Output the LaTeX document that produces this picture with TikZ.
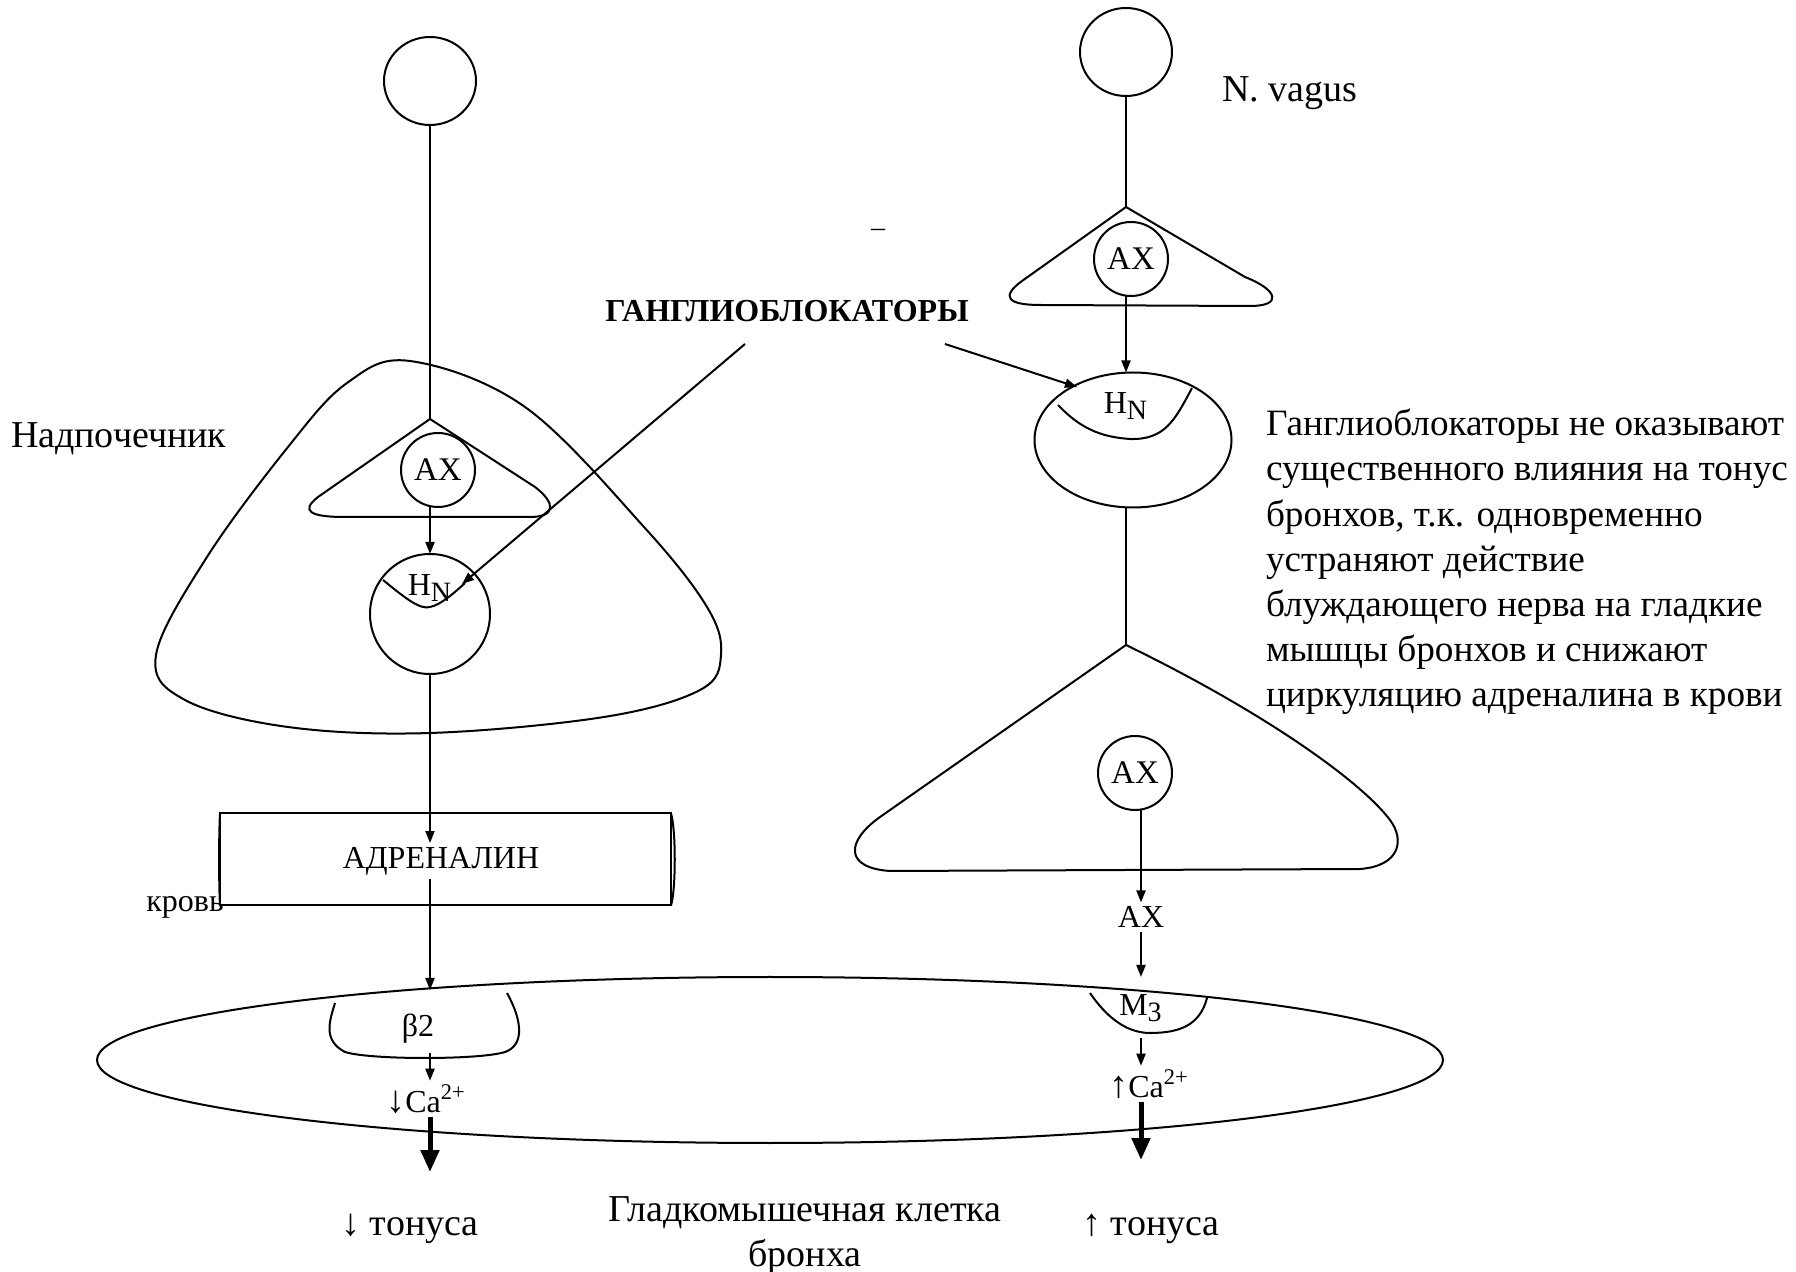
\documentclass[tikz,border=0pt]{standalone}
\usepackage{fontspec}
\setmainfont{Liberation Serif}
\usetikzlibrary{arrows.meta,shapes.geometric}
\begin{document}
\begin{tikzpicture}[x=0.5pt,y=-0.5pt, line width=1pt,
  every node/.style={inner sep=0pt, outer sep=0pt},
  lbl/.style={font=\fontsize{19}{22.6}\selectfont},
  par/.style={font=\fontsize{18.6}{22.6}\selectfont},
  sml/.style={font=\fontsize{16}{19}\selectfont, inner sep=2pt},
  cellc/.style={draw, circle, minimum size=37pt, font=\fontsize{16.5}{19}\selectfont},
  soma/.style={draw, ellipse, minimum width=46pt, minimum height=44pt},
  arr/.style={-{Triangle[length=6pt,width=4.5pt]}},
  bigarr/.style={line width=2.5pt, -{Triangle[length=11pt,width=9pt]}}
]
\useasboundingbox (0,0) rectangle (1796,1272);

% ---------- left branch (adrenal) ----------
\node[soma] (somaL) at (430,81) {};
\coordinate (apL) at (430,419);
\draw (somaL) -- (apL);

% adrenal gland outline
\draw plot[smooth cycle, tension=0.6] coordinates {
  (410,361) (525,407) (644,527) (707,607) (721,655) (700,690) (604,717)
  (430,733) (288,727) (185,700) (156,655) (207,557) (288,447) (347,383)};
\node[lbl, anchor=west] (nadp) at (11,439) {Надпочечник};

% ganglion (left)
\draw (apL) -- (318,497) .. controls (300,511) and (310,517) .. (345,517)
  -- (530,517) .. controls (556,517) and (556,503) .. (535,487) -- cycle;
\node[cellc] (axL) at (438,470) {AX};
\node[draw, circle, minimum size=60pt] (hnL) at (430,614) {};
\node[sml] (hnLt) at (430,588) {H\textsubscript{\fontsize{14}{14}\selectfont N}};
\draw[arr] (axL.south -| hnL.north) -- (hnL.north);
\draw (383,580) .. controls (405,598) and (420,610) .. (430,607)
  .. controls (440,605) and (452,595) .. (465,583);
\coordinate (hnLrec) at (462,584);

% blood vessel
\node[draw, rectangle, minimum width=225.5pt, minimum height=46pt] (vessel) at (445.5,859.5) {};
\draw (vessel.north east) .. controls +(2.5pt,-8pt) and +(2.5pt,8pt) .. (vessel.south east);
\draw (vessel.north west) .. controls +(-0.6pt,-10pt) and +(-0.6pt,10pt) .. (vessel.south west);
\node[sml] (adr) at (441,861) {АДРЕНАЛИН};
\node[sml, inner sep=0pt] (krov) at (185,907) {кровь};
\draw[arr] (hnL.south) -- (adr.north -| hnL.south);

% smooth muscle cell
\node[draw, ellipse, minimum width=673pt, minimum height=83pt] (cell) at (770,1060) {};
\coordinate (b2in) at (430,990);
\draw[arr] (adr.south -| hnL.south) -- (b2in);
\draw (335,1003) .. controls (330,1020) and (322,1040) .. (345,1052)
  .. controls (370,1060) and (480,1060) .. (505,1052)
  .. controls (525,1045) and (522,1020) .. (507,993);
\node[sml] (b2) at (418,1029) {β2};
\node[sml] (caL) at (426,1099) {{\fontsize{19}{19}\selectfont ↓}Ca\textsuperscript{2+}};
\draw[arr] (430,1053) -- (caL.north -| b2in);
\coordinate (toneLtop) at (430,1172);
\draw[bigarr] (caL.south -| b2in) -- (toneLtop);
\node[lbl] (toneL) at (410,1229) {↓ тонуса};

% ---------- ganglion blockers ----------
\node[font=\bfseries\fontsize{16}{19}\selectfont] (gb) at (787,311) {ГАНГЛИОБЛОКАТОРЫ};
\node[font=\fontsize{14}{16}\selectfont] (minus) at (878,233) {–};
\coordinate (gbL) at (745,344);
\coordinate (gbR) at (945,344);
\draw[arr] (gbL) -- (hnLrec);

% ---------- right branch (vagus) ----------
\node[soma] (somaR) at (1126,52) {};
\node[lbl, anchor=west] (vagus) at (1222,93) {N. vagus};
\coordinate (apR) at (1126,207);
\draw (somaR) -- (apR);
\draw (apR) -- (1022,281) .. controls (1000,297) and (1008,305) .. (1040,305)
  -- (1250,306) .. controls (1283,306) and (1278,290) .. (1245,277) -- cycle;
\node[cellc] (axR) at (1131,259) {AX};
\node[draw, ellipse, minimum width=98.5pt, minimum height=67.5pt] (hnR) at (1133,440) {};
\node[sml] (hnRt) at (1126,406) {H\textsubscript{\fontsize{14}{14}\selectfont N}};
\draw[arr] (axR.south -| apR) -- (hnR.north -| apR);
\draw (1058,405) .. controls (1080,428) and (1100,437) .. (1130,439)
  .. controls (1165,440) and (1175,420) .. (1192,388);
\coordinate (hnRrec) at (1077,387);
\draw[arr] (gbR) -- (hnRrec);

% postganglionic neuron
\coordinate (apR2) at (1126,645);
\draw (hnR.south -| apR) -- (apR2);
\draw (apR2) -- (880,817) .. controls (845,842) and (845,868) .. (890,871)
  -- (1360,869) .. controls (1400,866) and (1405,840) .. (1390,820)
  .. controls (1360,780) and (1260,710) .. (apR2);
\node[cellc] (axR2) at (1135,773) {AX};
\node[sml] (axT) at (1141,917) {AX};
\draw[arr] (axR2.south -| axT.north) -- (axT.north);
\coordinate (m3in) at (1141,977);
\draw[arr] (axT.south) -- (m3in);
\draw (1090,993) .. controls (1105,1015) and (1125,1033) .. (1150,1033)
  .. controls (1180,1033) and (1200,1025) .. (1207,998);
\node[sml] (m3) at (1141,1008) {M\textsubscript{\fontsize{14}{14}\selectfont 3}};
\node[sml] (caR) at (1149,1084) {{\fontsize{19}{19}\selectfont ↑}Ca\textsuperscript{2+}};
\draw[arr] (1141,1038) -- (caR.north -| m3in);
\coordinate (toneRtop) at (1141,1160);
\draw[bigarr] (caR.south -| m3in) -- (toneRtop);
\node[lbl] (toneR) at (1151,1229) {↑ тонуса};

% ---------- captions ----------
\node[lbl, align=center] (cellname) at (805,1236) {Гладкомышечная клетка\\бронха};
\node[par, anchor=north west, align=left] (expl) at (1266,409)
 {Ганглиоблокаторы не оказывают\\существенного влияния на тонус\\бронхов, т.к. одновременно\\устраняют действие\\блуждающего нерва на гладкие\\мышцы бронхов и снижают\\циркуляцию адреналина в крови};
\end{tikzpicture}
\end{document}
